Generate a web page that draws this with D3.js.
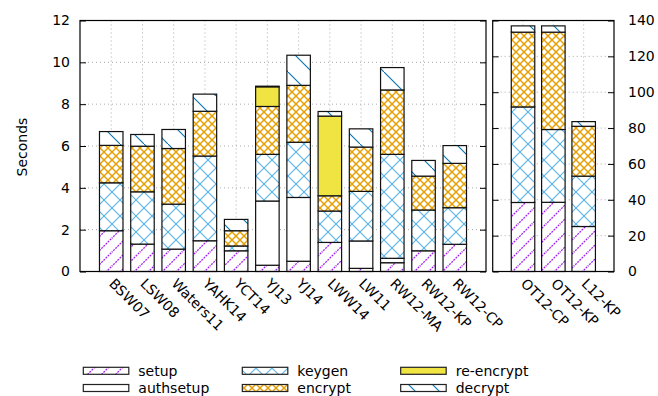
<!DOCTYPE html>
<html><head><meta charset="utf-8">
<script src="https://cdn.jsdelivr.net/npm/d3@7"></script>
<style>
body{margin:0;background:#fff;}
text{font-family:"DejaVu Sans",sans-serif;fill:#000;}
</style></head><body>
<svg id="c" width="658" height="396"></svg>
<script>
// ---- data ----
const series = ["setup","authsetup","keygen","encrypt","re-encrypt","decrypt"];
const leftCategories = ["BSW07","LSW08","Waters11","YAHK14","YCT14","YJ13","YJ14","LWW14","LW11","RW12-MA","RW12-KP","RW12-CP"];
const leftSetup     = [1.95,1.31,1.07,1.47,0.99,0.30,0.49,1.39,0.15,0.42,0.99,1.30];
const leftAuthsetup = [0,0,0,0,0,3.07,3.05,0,1.31,0.21,0,0];
const leftKeygen    = [2.29,2.50,2.15,4.05,0.23,2.23,2.64,1.50,2.37,4.97,1.95,1.75];
const leftEncrypt   = [1.79,2.18,2.66,2.14,0.73,2.29,2.72,0.73,2.12,3.08,1.62,2.12];
const leftReencrypt = [0,0,0,0,0,0.94,0,3.81,0,0,0,0];
const leftDecrypt   = [0.66,0.56,0.91,0.82,0.54,0.03,1.44,0.22,0.87,1.07,0.75,0.85];

const rightCategories = ["OT12-CP","OT12-KP","L12-KP"];
const rightSetup     = [38.5,38.6,25.1];
const rightAuthsetup = [0,0,0];
const rightKeygen    = [53.3,40.6,28.1];
const rightEncrypt   = [41.7,54.3,27.8];
const rightReencrypt = [0,0,0];
const rightDecrypt   = [3.5,3.5,2.6];

const leftTicks = [0,2,4,6,8,10,12];
const rightTicks = [0,20,40,60,80,100,120,140];
const yLabel = "Seconds";

// ---- drawing ----
const svg = d3.select("#c");
const defs = svg.append("defs");
function pat(id, size, color, sw, lines, dash){
  const p = defs.append("pattern").attr("id",id).attr("patternUnits","userSpaceOnUse")
    .attr("width",size).attr("height",size);
  p.append("rect").attr("width",size).attr("height",size).attr("fill","#fff");
  lines.forEach(l=>p.append("line").attr("x1",l[0]).attr("y1",l[1]).attr("x2",l[2]).attr("y2",l[3])
    .attr("stroke",color).attr("stroke-width",sw).attr("stroke-dasharray",dash||null));
}
pat("p-setup",14,"#a020f0",1.3,[[-3,17,17,-3],[-3,3,3,-3],[11,17,17,11]],"2,1");
pat("p-keygen",16,"#56b4e9",1.1,[[0,0,16,16],[0,16,16,0]]);
pat("p-encrypt",8,"#e69f00",1.4,[[0,0,8,8],[0,8,8,0]]);
pat("p-decrypt",24,"#0072b2",1.1,[[-3,-3,27,27]]);
const fills = {"setup":"url(#p-setup)","authsetup":"#fff","keygen":"url(#p-keygen)",
  "encrypt":"url(#p-encrypt)","re-encrypt":"#f0e442","decrypt":"url(#p-decrypt)"};

const yTop = 20.5, yBot = 271.5;
const panels = [
  {cats:leftCategories, vals:[leftSetup,leftAuthsetup,leftKeygen,leftEncrypt,leftReencrypt,leftDecrypt],
   x0:80, x1:486, max:12, ticks:leftTicks, labelsLeft:true},
  {cats:rightCategories, vals:[rightSetup,rightAuthsetup,rightKeygen,rightEncrypt,rightReencrypt,rightDecrypt],
   x0:492.7, x1:614, max:140, ticks:rightTicks, labelsLeft:false}
];
const gridStyle = g=>g.attr("stroke","#aaa").attr("stroke-width",1).attr("stroke-dasharray","1,3");

panels.forEach(P=>{
  const xc = d3.scaleLinear().domain([0,P.cats.length+1]).range([P.x0,P.x1]);
  const cx = c => xc(P.cats.indexOf(c)+1);
  const y = d3.scaleLinear().domain([0,P.max]).range([yBot,yTop]);
  const bw = 23.5;
  const g = svg.append("g");
  // grid
  P.ticks.forEach(t=>{ if(t>0 && t<P.max) g.append("line").attr("x1",P.x0).attr("x2",P.x1).attr("y1",y(t)).attr("y2",y(t)).call(gridStyle); });
  P.cats.forEach(c=>g.append("line").attr("x1",cx(c)).attr("x2",cx(c)).attr("y1",yTop).attr("y2",yBot).call(gridStyle));
  // stacked bars
  const rows = P.cats.map((c,i)=>{const o={cat:c}; series.forEach((s,k)=>o[s]=P.vals[k][i]); return o;});
  const stack = d3.stack().keys(series)(rows);
  stack.forEach(layer=>{
    g.append("g").selectAll("rect").data(layer.filter(d=>d[1]-d[0]>0)).join("rect")
      .attr("x",d=>cx(d.data.cat)-bw/2).attr("width",bw)
      .attr("y",d=>y(d[1])).attr("height",d=>y(d[0])-y(d[1]))
      .attr("fill",fills[layer.key]).attr("stroke","#111").attr("stroke-width",1.2);
  });
  // axes
  const aL = d3.axisLeft(y).tickValues(P.ticks).tickSizeInner(-6).tickSizeOuter(0).tickPadding(10);
  const aR = d3.axisRight(y).tickValues(P.ticks).tickSizeInner(-6).tickSizeOuter(0).tickPadding(14);
  if(!P.labelsLeft) aL.tickFormat("");
  if(P.labelsLeft) aR.tickFormat("");
  const gl = svg.append("g").attr("transform",`translate(${P.x0},0)`).call(aL);
  const gr = svg.append("g").attr("transform",`translate(${P.x1},0)`).call(aR);
  [gl,gr].forEach(a=>{a.select(".domain").remove(); a.selectAll("line").attr("stroke","#000");
    a.selectAll("text").style("font-size","14px").style("font-family","DejaVu Sans");});
  // frame
  svg.append("rect").attr("x",P.x0).attr("y",yTop).attr("width",P.x1-P.x0).attr("height",yBot-yTop)
    .attr("fill","none").attr("stroke","#000").attr("stroke-width",1.2);
  // x labels
  P.cats.forEach(c=>{
    svg.append("text").attr("transform",`translate(${cx(c)-3},${yBot+13}) rotate(45)`)
      .attr("text-anchor","start").style("font-size","14px").text(c);
  });
});

svg.append("text").attr("transform","translate(27,147) rotate(-90)").attr("text-anchor","middle")
  .style("font-size","14px").text(yLabel);

// legend
const legendPos = [[83.3,367.3],[83.3,384.5],[242.3,367.3],[242.3,384.5],[400.7,367.3],[400.7,384.5]];
series.forEach((s,i)=>{
  const [lx,ly] = legendPos[i];
  svg.append("rect").attr("x",lx).attr("y",ly).attr("width",45.5).attr("height",7)
    .attr("fill",fills[s]).attr("stroke","#222").attr("stroke-width",1.2);
  svg.append("text").attr("x",lx+55).attr("y",ly+8.5).style("font-size","14px").text(s);
});
</script></body></html>
